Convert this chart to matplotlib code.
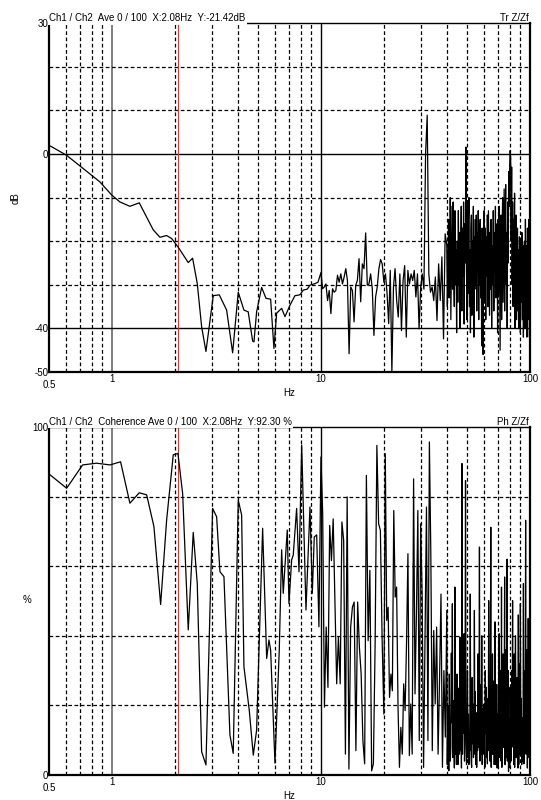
import numpy as np
import matplotlib
matplotlib.use('Agg')
import matplotlib.pyplot as plt

plt.rcParams['font.family'] = ['Liberation Sans', 'DejaVu Sans']
plt.rcParams.update({'font.size': 7})

# ---- transfer function (dB), low frequency part read point by point
tr_freq_low = [0.5, 0.607, 0.876, 0.997, 1.092, 1.219, 1.351, 1.576, 1.697, 1.827,
               1.931, 2.077, 2.318, 2.432, 2.560, 2.686, 2.817, 3.053, 3.262, 3.538,
               3.780, 4.021, 4.281, 4.487, 4.712, 4.78, 4.923, 5.203, 5.457, 5.745,
               5.957, 6.138, 6.486, 6.728, 7.108, 7.508, 7.93, 8.24, 8.6, 8.86, 9.4, 9.68]
tr_db_low = [2.0, -0.3, -6.4, -9.4, -11.0, -12.0, -11.2, -17.4, -19.1, -18.7,
             -19.4, -21.4, -24.9, -23.9, -29.7, -39.6, -45.3, -32.5, -32.3, -35.8,
             -45.6, -31.7, -35.8, -36.2, -42.9, -43.1, -36.2, -30.6, -33.1, -33.3,
             -44.6, -36.5, -35.4, -37.3, -34.7, -32.5, -32.3, -31.2, -31.0, -30.1, -29.7, -29.4]

# higher bands: values in order inside each band of the grid
tr_db_10_20 = [-27.2, -30.9, -30.5, -29.8, -33.6, -31.3, -36.6, -30.9, -31.7, -31.3, -27.8,
               -29.4, -27.5, -29.8, -28.2, -26.3, -29.0, -45.8, -30.5, -31.3, -38.5, -30.1,
               -29.0, -24.0, -33.9, -25.2, -26.3, -18.1, -30.1, -29.8, -27.5, -30.9, -41.6,
               -32.8, -30.5, -26.3, -24.2, -25.2]
tr_db_20_30 = [-29.4, -27.5, -32.0, -38.9, -26.7, -50.0, -30.5, -26.3, -33.6, -37.4, -27.5,
               -40.5, -29.0, -25.6, -42.0, -26.7, -29.8, -27.5, -29.0, -26.7, -32.8, -27.5, -40.1]
tr_db_30_40 = [-30.5, -27.5, -31.0, 0.0, 8.9, -27.5, -31.7, -30.5, -33.6, -28.2, -38.2,
               -25.2, -33.6, -23.6, -42.4, -18.3]
tr_db_40_50 = [-21, -35, -26, -15, -33, -29, -10, -38, -24, -12, -31, -11, -27, -35, -13,
               -30, -22, -41, -20, -34, -13, -30, -18, -40, -22, -12, -36, -17, -28, -11,
               -39, -16, -25, 1.6, -26]
tr_db_50_60 = [-38, -11, -32, -15, -10, -35, -22, -41, -17, -14, -37, -20, -30, -12, -42,
               -19, -31, -15, -30, -14, -36, -18, -27, -13, -38, -16, -30, -15, -33, -20,
               -44, -17, -28, -46]
tr_db_60_70 = [-23, -13, -34, -17, -38, -19, -28, -14, -35, -13, -24, -37, -18, -31, -15,
               -40, -21, -30, -13, -36, -18, -27, -12, -33, -23, -16]
tr_db_70_80 = [-41, -15, -32, -12, -29, -45, -20, -14, -38, -17, -10, -34, -22, -8, -36,
               -19, -7, -30, -18, -40, -11, -25, -4, -12]
tr_db_80_90 = [-2, 0.8, -1, -20, -3, -30, -11, -35, -15, -26, -9, -40, -20, -14, -38, -25,
               -17, -36, -22, -40, -19, -33]
tr_db_90_100 = [-41, -20, -34, -18, -38, -21, -42, -26, -20, -40, -15, -35, -21, -42, -17,
                -38, -25, -15, -42, -6]

# ---- coherence (%)
coh_freq_low = [0.5, 0.607, 0.724, 0.845, 0.978, 1.10, 1.219, 1.351, 1.466, 1.588,
                1.710, 1.827, 1.965, 2.069, 2.179, 2.318, 2.449, 2.560, 2.686, 2.817,
                3.032, 3.169, 3.287, 3.435, 3.669, 3.805, 4.021, 4.174, 4.281, 4.538,
                4.745, 4.923, 5.26, 5.50, 5.64, 5.745, 6.025, 6.318, 6.486, 6.60,
                6.90, 7.03, 7.24, 7.37, 7.65, 7.85, 8.09, 8.48, 8.86, 9.09, 9.29, 9.54, 9.78]
coh_low = [86.5, 82.4, 89.1, 89.6, 89.1, 90.0, 78.1, 81.1, 80.5, 71.4,
           49.0, 73.3, 92.0, 92.4, 80.9, 41.7, 69.7, 55.0, 6.7, 2.9,
           76.6, 74.2, 58.4, 57.0, 11.5, 6.2, 79.0, 74.7, 31.1, 18.7,
           5.7, 12.9, 70.9, 33.5, 38.8, 35.9, 3.4, 35.9, 64.7, 52.2,
           70.4, 49.3, 61.8, 63.2, 76.6, 58.4, 94.8, 47.4, 77.0, 52.2, 68.4, 69.0, 42.6]
coh_10_20 = [91.4, 75, 19.5, 42.5, 25.2, 71.7, 61.6, 73.6, 49.2, 26.2, 39.6, 26.2, 72.7,
             67.4, 6, 79.9, 1.7, 42.5, 48.2, 49.7, 7, 49.7, 36.7, 29, 9.9, 3.2, 86.1, 38.6,
             58.8, 1.2, 3.2, 37.7, 94.7, 72.2, 70.3, 39.1]
coh_20_30 = [17.5, 92.3, 44.4, 48.2, 22.3, 29, 24.2, 76, 51.1, 54, 19.5, 2.2, 13.7, 6, 26.2,
             18.5, 37.7, 63.6, 5.6, 20.4, 6, 85.1, 23.3, 46.3, 76, 9.9]
coh_30_40 = [72.2, 52, 2.2, 39.6, 77, 9.9, 95.7, 63.6, 7, 41.5, 20.4, 42.5, 6, 27.2, 52,
             2.2, 30, 10.9]
coh_40_50 = [47.3, 3, 20, 8, 1.2, 29, 12, 4, 8, 35, 15, 49.2, 5, 21.4, 10, 2, 54, 6, 18, 3,
             29, 9, 3, 11.8, 25, 6, 39.6, 7, 15, 2, 89.5, 6, 22, 12, 40.6, 4, 18, 84.6, 10, 3]
coh_50_60 = [10.9, 30, 5, 17.5, 3, 12, 7, 52, 12, 4, 2.2, 28, 9, 20.4, 5, 14, 47.3, 6, 24,
             3, 15.6, 2.2, 18, 7, 34.8, 8, 22, 65.5, 4, 26, 10, 6, 40, 3, 19, 8]
coh_60_70 = [6, 20.4, 9, 2.2, 30, 12, 25.2, 5, 16, 3.2, 22, 7, 50.1, 8, 15.6, 4, 33, 71.2,
             2.2, 18, 6, 34.8, 6, 14, 27, 3, 10, 44, 3, 20, 8, 26, 2]
coh_70_80 = [17.5, 2.2, 12, 28, 40.6, 5, 18, 9.9, 30, 4, 54, 2.2, 15, 8, 34.8, 8, 20, 24,
             56.9, 3, 14, 36, 12, 5, 62, 4, 22, 30, 1, 16, 6]
coh_80_90 = [2.2, 25.2, 10, 4, 6, 30, 14, 50.1, 8, 20, 3, 34.8, 2.2, 18, 40, 22.3, 5, 12,
             28, 12, 2, 46, 3, 20, 32, 6]
coh_90_100 = [49.2, 6, 22, 3, 16.5, 4, 12, 55, 3.2, 30, 8, 12, 73.2, 6, 24, 36, 2, 15, 45,
              14, 5, 28, 79.9]

bands = [(10, 20), (20, 30), (30, 40), (40, 50), (50, 60), (60, 70), (70, 80), (80, 90), (90, 100)]
tr_bands = [tr_db_10_20, tr_db_20_30, tr_db_30_40, tr_db_40_50, tr_db_50_60,
            tr_db_60_70, tr_db_70_80, tr_db_80_90, tr_db_90_100]
coh_bands = [coh_10_20, coh_20_30, coh_30_40, coh_40_50, coh_50_60,
             coh_60_70, coh_70_80, coh_80_90, coh_90_100]


def build(freq_low, val_low, band_vals):
    f = list(freq_low)
    v = list(val_low)
    for k, ((f0, f1), vals) in enumerate(zip(bands, band_vals)):
        last = k == len(bands) - 1
        f += list(np.geomspace(f0, f1, len(vals), endpoint=last))
        v += list(vals)
    return np.array(f), np.array(v)


tr_f, tr_v = build(tr_freq_low, tr_db_low, tr_bands)
coh_f, coh_v = build(coh_freq_low, coh_low, coh_bands)

dash = (0, (3, 2))
minor_f = [0.6, 0.7, 0.8, 0.9, 2, 3, 4, 5, 6, 7, 8, 9, 20, 30, 40, 50, 60, 70, 80, 90]


def decorate(ax, ylim, yticks, dashed_y, solid_y, title, right_title):
    ax.set_xscale('log')
    ax.set_xlim(0.5, 100)
    ax.set_ylim(*ylim)
    for f in minor_f:
        ax.axvline(f, color='black', lw=0.9, ls=dash, zorder=1)
    ax.axvline(1, color='#7f7f7f', lw=1.4, zorder=1)
    ax.axvline(10, color='black', lw=1.0, zorder=1)
    for y in dashed_y:
        ax.axhline(y, color='black', lw=0.9, ls=dash, zorder=1)
    for y in solid_y:
        ax.axhline(y, color='black', lw=1.0, zorder=1)
    ax.axvline(2.08, color='#cc3b3b', lw=0.8, zorder=2)

    for s in ['left', 'bottom', 'right']:
        ax.spines[s].set_linewidth(1.6)
    ax.spines['top'].set_linewidth(1.0)

    ax.set_xticks([1, 10, 100])
    ax.set_xticklabels(['1', '10', '100'])
    ax.xaxis.set_minor_locator(matplotlib.ticker.NullLocator())
    ax.set_yticks(yticks)
    ax.set_yticklabels([str(t) for t in yticks])
    ax.tick_params(length=0, pad=1.5)
    ax.tick_params(axis='y', pad=0.5)
    ax.annotate('0.5', xy=(0.5, 0), xycoords=('data', 'axes fraction'), xytext=(0, -5.5),
                textcoords='offset points', ha='center', va='top')
    ax.set_xlabel('Hz', labelpad=2.5)

    ax.text(0.0, 1.0, title, transform=ax.transAxes, ha='left', va='bottom',
            bbox=dict(facecolor='white', edgecolor='none', pad=1.0), zorder=5)
    ax.text(0.997, 1.0, right_title, transform=ax.transAxes, ha='right', va='bottom')


fig = plt.figure(figsize=(5.41, 8.0), dpi=100)
ax1 = fig.add_axes([0.0906, 0.535, 0.889, 0.436])
ax2 = fig.add_axes([0.0906, 0.03125, 0.889, 0.435])

ax1.plot(tr_f, tr_v, color='black', lw=0.9, zorder=3)
decorate(ax1, (-50, 30), [30, 0, -40, -50], [20, 10, -10, -20, -30], [0, -40],
         'Ch1 / Ch2  Ave 0 / 100  X:2.08Hz  Y:-21.42dB', 'Tr Z/Zf')

ax2.plot(coh_f, coh_v, color='black', lw=0.9, zorder=3)
decorate(ax2, (0, 100), [100, 0], [20, 40, 60, 80], [],
         'Ch1 / Ch2  Coherence Ave 0 / 100  X:2.08Hz  Y:92.30 %', 'Ph Z/Zf')

fig.text(16 / 541, 1 - 198 / 800, 'dB', rotation=90, ha='center', va='center')
fig.text(27 / 541, 1 - 600 / 800, '%', ha='center', va='center')

plt.savefig('out.png', dpi=100)
